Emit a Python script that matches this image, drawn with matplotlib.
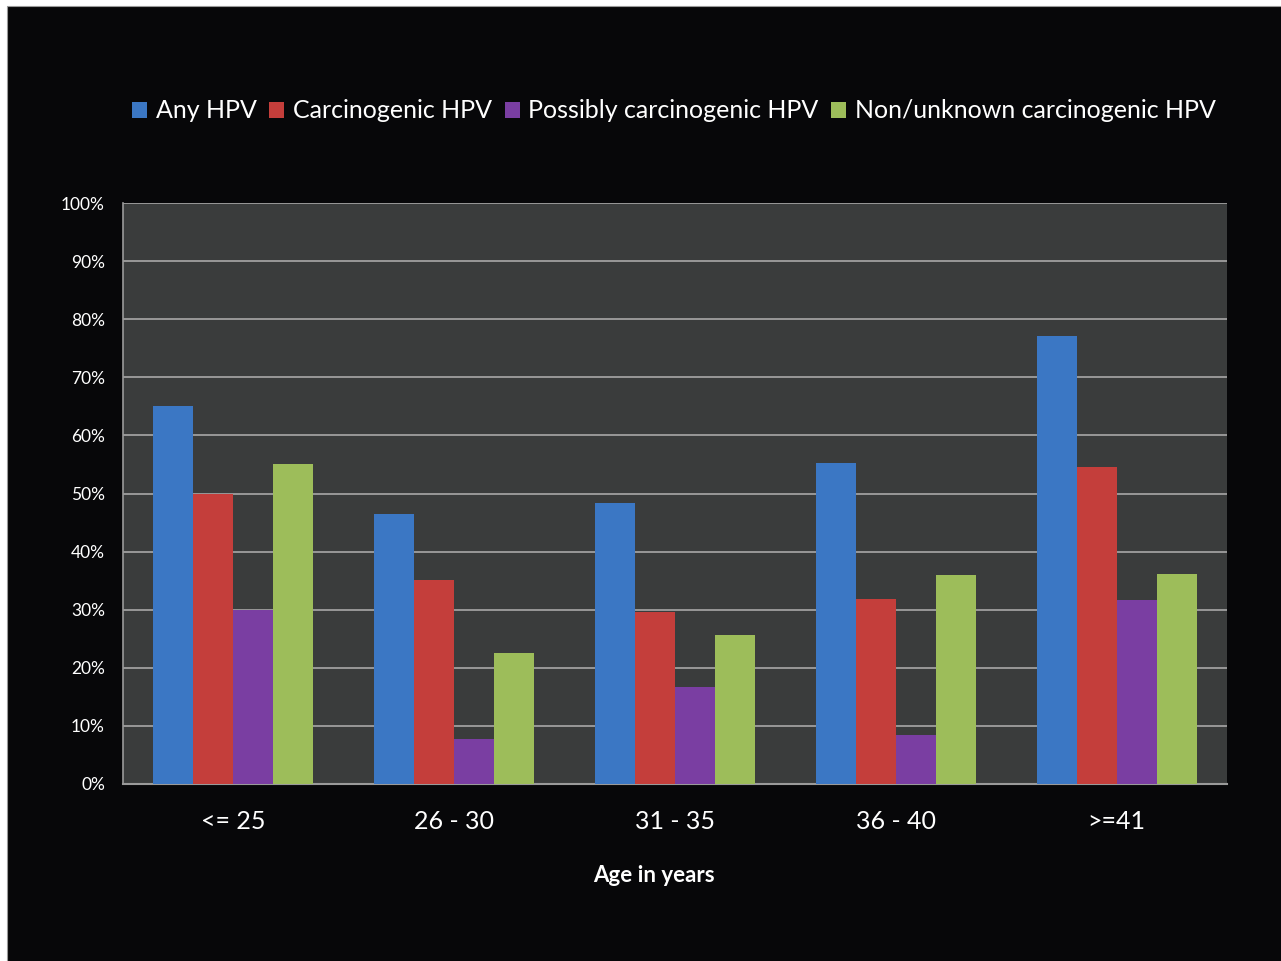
import matplotlib.pyplot as plt
import numpy as np
from matplotlib.patches import Rectangle
from matplotlib.ticker import FuncFormatter

plt.rcParams['font.family'] = ['Lato', 'DejaVu Sans']

# data (percent)
age_groups = ['<= 25', '26 - 30', '31 - 35', '36 - 40', '>=41']
series_names = ['Any HPV', 'Carcinogenic HPV', 'Possibly carcinogenic HPV',
                'Non/unknown carcinogenic HPV']
any_hpv = [65.0, 46.5, 48.4, 55.2, 77.1]
carcinogenic = [50.0, 35.1, 29.6, 31.8, 54.6]
possibly = [30.0, 7.7, 16.7, 8.4, 31.7]
non_unknown = [55.1, 22.5, 25.6, 36.0, 36.1]
colors = ['#3b77c4', '#c43e3b', '#7a3ea2', '#9dbd5a']

W, H = 1281, 961
fig = plt.figure(figsize=(W / 100, H / 100), dpi=100, facecolor='white')

# black slide background with small white margin on left/top
fig.patches.append(Rectangle((7 / W, -0.01), 1.01 - 7 / W, 1.01 - 6 / H,
                             transform=fig.transFigure, facecolor='#070709',
                             edgecolor='#9a9a9a', linewidth=0.8, zorder=-10))

ax = fig.add_axes([123 / W, 1 - 784 / H, 1104 / W, 581 / H])
ax.set_facecolor('#3a3c3c')

x = np.arange(len(age_groups))
bw = 0.181
all_series = [any_hpv, carcinogenic, possibly, non_unknown]
for i, (vals, c, name) in enumerate(zip(all_series, colors, series_names)):
    ax.bar(x + (i - 1.5) * bw, vals, width=bw, color=c, label=name,
           edgecolor='none', zorder=3)

ax.set_xlim(-0.5, len(age_groups) - 0.5)
ax.set_ylim(0, 100)
ax.set_yticks(np.arange(0, 101, 10))
ax.yaxis.set_major_formatter(FuncFormatter(lambda v, p: f'{v:.0f}%'))
ax.grid(axis='y', color='#a8a8a8', linewidth=1.2, zorder=1)
ax.set_axisbelow(True)
for s in ['top', 'right', 'left']:
    ax.spines[s].set_visible(False)
ax.spines['bottom'].set_color('#9a9a9a')
ax.spines['bottom'].set_linewidth(1.5)
ax.plot([0, 0], [0, 1], transform=ax.transAxes, color='#9a9a9a', lw=1.2,
        clip_on=False, zorder=4)

ax.set_xticks(x)
ax.set_xticklabels(age_groups, fontsize=18, color='white')
ax.tick_params(axis='x', length=0, pad=19)
ax.tick_params(axis='y', length=0, pad=13, labelsize=12.5, labelcolor='white')
ax.set_xlabel('Age in years', fontsize=16, fontweight='bold', color='white')
ax.xaxis.set_label_coords(0.481, -0.139)

fig.legend(loc='center', bbox_to_anchor=(674 / W, 1 - 111 / H), ncol=4,
           frameon=False, fontsize=18, labelcolor='white', handlelength=0.6,
           handleheight=0.6, handletextpad=0.35, columnspacing=0.5)

fig.savefig('out.png', dpi=100, facecolor='white')
